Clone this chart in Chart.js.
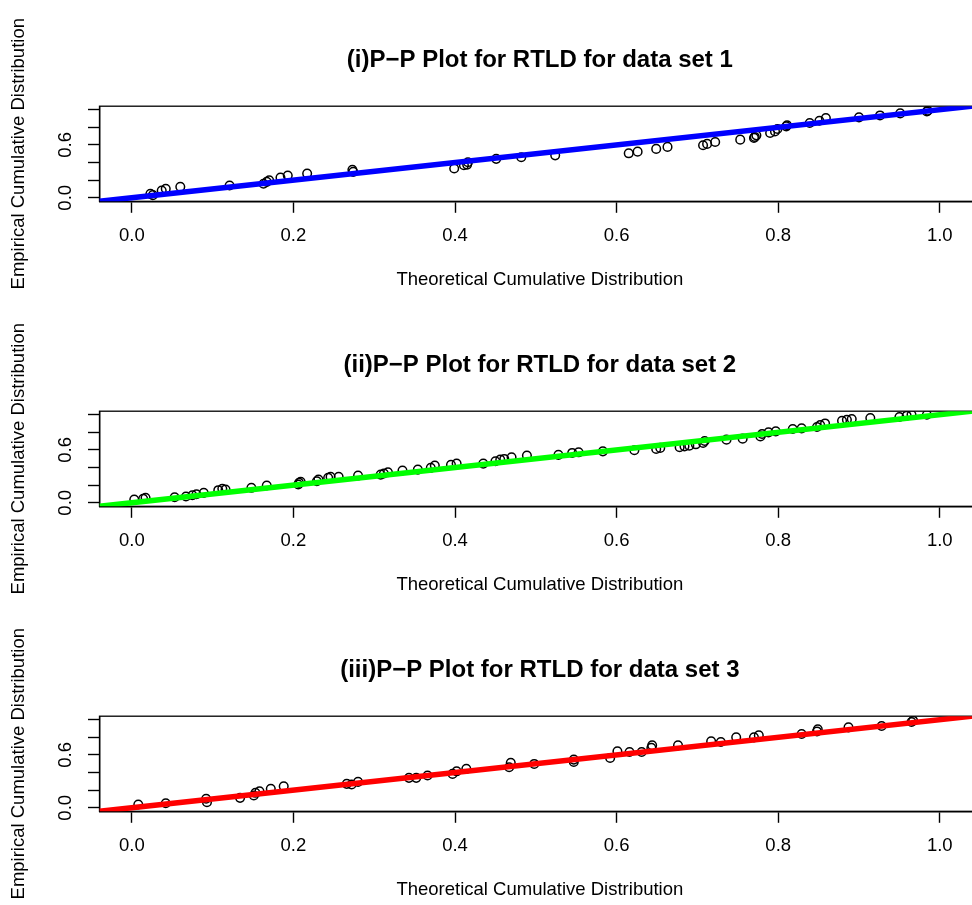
<!DOCTYPE html>
<html>
<head>
<meta charset="utf-8">
<title>P-P plots for RTLD</title>
<script src="https://cdn.jsdelivr.net/npm/chart.js@4.4.1/dist/chart.umd.min.js"></script>
<style>
  html, body { margin: 0; padding: 0; background: #fff; width: 972px; height: 905px; overflow: hidden; }
  canvas { position: absolute; left: 0; }
</style>
</head>
<body>
<canvas id="pp1" width="986" height="305" style="top:0px"></canvas>
<canvas id="pp2" width="986" height="305" style="top:305px"></canvas>
<canvas id="pp3" width="986" height="305" style="top:610px"></canvas>
<script>
// ---- data ----
const titles = [
  '(i)P\u2212P Plot for RTLD for data set 1',
  '(ii)P\u2212P Plot for RTLD for data set 2',
  '(iii)P\u2212P Plot for RTLD for data set 3'
];
const lineColors = ['#0000ff', '#00ff00', '#ff0000'];
const xLabel = 'Theoretical Cumulative Distribution';
const yLabel = 'Empirical Cumulative Distribution';
const xTicks = [0, 0.2, 0.4, 0.6, 0.8, 1.0];
const yTicks = [0, 0.2, 0.4, 0.6, 0.8, 1.0];
const yTicksLabelled = [0, 0.6];

// data set 1
const theo1 = [0.023, 0.026, 0.037, 0.042, 0.060, 0.121, 0.163, 0.167, 0.170, 0.184, 0.193, 0.217,
  0.273, 0.274, 0.399, 0.411, 0.415, 0.416, 0.451, 0.482, 0.524, 0.615, 0.626, 0.649, 0.663,
  0.707, 0.712, 0.722, 0.753, 0.770, 0.771, 0.773, 0.790, 0.796, 0.799, 0.810, 0.811, 0.839,
  0.851, 0.859, 0.900, 0.926, 0.951, 0.984, 0.985];
const emp1 = [0.045, 0.030, 0.083, 0.102, 0.125, 0.139, 0.159, 0.181, 0.199, 0.230, 0.253, 0.275,
  0.317, 0.294, 0.332, 0.369, 0.377, 0.403, 0.442, 0.460, 0.482, 0.505, 0.524, 0.555, 0.578,
  0.596, 0.612, 0.634, 0.660, 0.680, 0.691, 0.709, 0.736, 0.754, 0.781, 0.811, 0.824, 0.849,
  0.875, 0.906, 0.913, 0.935, 0.958, 0.980, 0.989];

// data set 2
const theo2 = [0.003, 0.014, 0.017, 0.053, 0.067, 0.075, 0.080, 0.089, 0.107, 0.112, 0.116, 0.148,
  0.167, 0.206, 0.207, 0.209, 0.229, 0.231, 0.243, 0.246, 0.256, 0.280, 0.308, 0.312, 0.317,
  0.335, 0.354, 0.370, 0.375, 0.395, 0.402, 0.435, 0.450, 0.456, 0.461, 0.470, 0.489, 0.528,
  0.545, 0.553, 0.583, 0.622, 0.649, 0.654, 0.678, 0.684, 0.690, 0.698, 0.707, 0.709, 0.736,
  0.756, 0.778, 0.780, 0.788, 0.797, 0.818, 0.829, 0.848, 0.852, 0.858, 0.879, 0.885, 0.891,
  0.914, 0.950, 0.959, 0.965, 0.984];
const emp2 = [0.037, 0.045, 0.057, 0.063, 0.071, 0.086, 0.097, 0.113, 0.143, 0.159, 0.151, 0.170,
  0.196, 0.207, 0.226, 0.238, 0.245, 0.264, 0.283, 0.294, 0.294, 0.309, 0.320, 0.332, 0.347,
  0.366, 0.377, 0.396, 0.422, 0.430, 0.445, 0.445, 0.471, 0.490, 0.498, 0.516, 0.536, 0.544,
  0.566, 0.573, 0.584, 0.596, 0.612, 0.623, 0.630, 0.641, 0.649, 0.664, 0.680, 0.702, 0.717,
  0.728, 0.754, 0.781, 0.800, 0.811, 0.838, 0.845, 0.861, 0.883, 0.901, 0.932, 0.943, 0.951,
  0.963, 0.974, 0.989, 1.000, 1.000];

// data set 3
const theo3 = [0.008, 0.042, 0.092, 0.093, 0.134, 0.151, 0.153, 0.158, 0.172, 0.188, 0.266, 0.272,
  0.280, 0.343, 0.352, 0.366, 0.397, 0.402, 0.414, 0.467, 0.469, 0.498, 0.547, 0.547, 0.592,
  0.601, 0.616, 0.631, 0.643, 0.644, 0.676, 0.717, 0.729, 0.748, 0.770, 0.776, 0.829, 0.848,
  0.849, 0.887, 0.928, 0.965, 0.967];
const emp3 = [0.037, 0.052, 0.102, 0.063, 0.113, 0.139, 0.170, 0.188, 0.215, 0.245, 0.272, 0.264,
  0.294, 0.340, 0.340, 0.366, 0.385, 0.414, 0.442, 0.460, 0.510, 0.498, 0.547, 0.521, 0.566,
  0.641, 0.634, 0.634, 0.680, 0.709, 0.709, 0.754, 0.747, 0.800, 0.800, 0.822, 0.838, 0.867,
  0.890, 0.913, 0.929, 0.974, 0.989];

const panels = [[theo1, emp1], [theo2, emp2], [theo3, emp3]];
const diagonal = [-0.04, 1.05];

// ---- drawing ----
const FONT = "'Liberation Sans', Arial, Helvetica, sans-serif";
const axisFont = { family: FONT, size: 18.5, lineHeight: 1.2 };

// box around the plot region, like R's box()
const plotBox = {
  id: 'plotBox',
  beforeDatasetsDraw(chart) {
    const a = chart.chartArea, ctx = chart.ctx;
    ctx.save();
    ctx.strokeStyle = '#000';
    ctx.lineWidth = 1.3;
    ctx.strokeRect(a.left, a.top, a.right - a.left, a.bottom - a.top);
    ctx.restore();
  }
};

function makePanel(i) {
  const [tx, ey] = panels[i];
  const pts = tx.map((x, k) => ({ x: x, y: ey[k] }));
  const line = diagonal.map(v => ({ x: v, y: v }));

  return new Chart(document.getElementById('pp' + (i + 1)), {
    type: 'scatter',
    data: {
      datasets: [
        {
          type: 'line', data: line, order: 0,
          borderColor: lineColors[i], borderWidth: 5.5, pointRadius: 0,
          clip: 0, tension: 0
        },
        {
          data: pts, order: 1,
          pointStyle: 'circle', pointRadius: 4.3,
          backgroundColor: 'rgba(0,0,0,0)', borderColor: '#000', borderWidth: 1.5
        }
      ]
    },
    options: {
      responsive: false,
      animation: false,
      devicePixelRatio: 1,
      events: [],
      layout: { padding: 0 },
      plugins: {
        legend: { display: false },
        tooltip: { enabled: false },
        title: {
          display: true, text: titles[i], fullSize: false, color: '#000',
          font: { family: FONT, size: 24, weight: 'bold', lineHeight: 1.2 },
          padding: { top: 45.6, bottom: 31.8 }
        }
      },
      scales: {
        x: {
          type: 'linear', min: -0.04, max: 1.05,
          afterBuildTicks: s => { s.ticks = xTicks.map(v => ({ value: v })); },
          afterFit: s => { s.height = 103.7; },
          grid: { drawOnChartArea: false, drawTicks: true, tickLength: 11.5, tickWidth: 1.4, tickColor: '#000' },
          border: { display: true, color: '#000', width: 1.4 },
          ticks: {
            color: '#000', font: axisFont, padding: 12.5, autoSkip: false,
            maxRotation: 0, callback: v => v.toFixed(1)
          },
          title: {
            display: true, text: xLabel, color: '#000', font: axisFont,
            padding: { top: 0, bottom: 13.6 }
          }
        },
        y: {
          type: 'linear', min: -0.04, max: 1.04,
          afterBuildTicks: s => { s.ticks = yTicks.map(v => ({ value: v })); },
          afterFit: s => { s.width = 99.5; },
          grid: { drawOnChartArea: false, drawTicks: true, tickLength: 11.5, tickWidth: 1.4, tickColor: '#000' },
          border: { display: true, color: '#000', width: 1.4 },
          ticks: {
            color: '#000', font: axisFont, padding: 9.5, autoSkip: false,
            minRotation: 90, maxRotation: 90, crossAlign: 'center',
            callback: v => (yTicksLabelled.includes(v) ? v.toFixed(1) : '')
          },
          title: {
            display: true, text: yLabel, color: '#000', font: axisFont,
            padding: { top: 7.8, bottom: 0 }
          }
        }
      }
    },
    plugins: [plotBox]
  });
}

[0, 1, 2].forEach(makePanel);
</script>
</body>
</html>
